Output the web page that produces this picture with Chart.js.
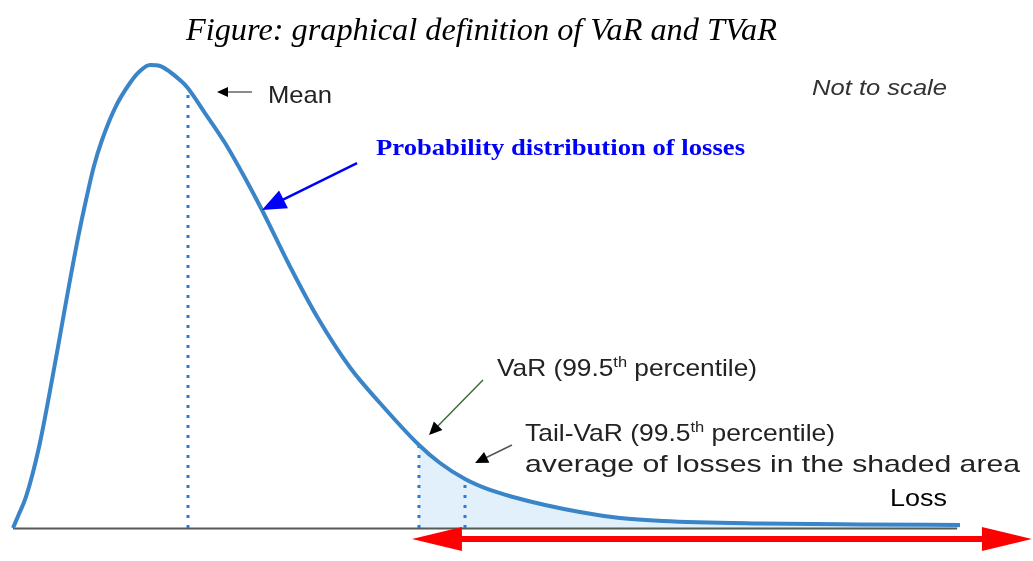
<!DOCTYPE html>
<html><head><meta charset="utf-8">
<script src="https://cdn.jsdelivr.net/npm/chart.js@4.4.1/dist/chart.umd.min.js"></script>
<style>html,body{margin:0;padding:0;background:#fff;overflow:hidden}#wrap{width:1033px;height:561px;position:relative}</style>
</head><body><div id="wrap"><canvas id="c" width="1033" height="561"></canvas></div>
<script>
// ---- data (loss on x, density on y; "not to scale") ----
const lossValues    = [0, 0.63, 1.37, 2.75, 4.12, 5.07, 6.02, 6.86, 7.71, 8.55, 9.40, 10.77, 12.35, 13.41, 14.47, 15.52, 16.58, 17.63, 18.37, 20.27, 22.39, 24.50, 26.29, 29.25, 32.10, 35.59, 38.75, 42.87, 45.09, 47.73, 50.37, 52.80, 56.18, 59.87, 64.10, 68.64, 78.88, 89.44, 100];
const densityValues = [0, 3.02, 6.70, 17.49, 31.97, 42.76, 53.56, 62.63, 70.84, 78.19, 83.80, 90.71, 96.11, 98.70, 100, 99.78, 98.49, 96.76, 95.25, 89.63, 83.15, 75.59, 68.68, 56.48, 45.68, 34.67, 27.00, 17.93, 14.04, 10.58, 8.21, 6.70, 4.97, 3.46, 2.16, 1.51, 0.97, 0.76, 0.65];
const markerNames   = ['Mean', 'VaR', 'TVaR'];
const markerLoss    = [18.48, 42.87, 47.73];
const markerDensity = [93.9, 17.93, 10.58];
const axisEndLoss   = 99.7;

const curve = lossValues.map((x, i) => ({x, y: densityValues[i]}));
const tail = curve.filter(p => p.x >= markerLoss[1]);
const markerSets = markerNames.map((n, i) => ({
  label: n, data: [{x: markerLoss[i], y: 0}, {x: markerLoss[i], y: markerDensity[i]}],
  borderColor: '#2a7bd6', borderWidth: 3, borderDash: [3, 7], borderCapStyle: 'butt',
  pointRadius: 0, fill: false, order: 1, clip: false
}));

// ---- annotations (positions in data units) ----
const arrows = [
  {from: [25.24, 94.17], to: [21.54, 94.17], color: '#666', head: '#000', w: 1.5, hl: 11, hw: 5},
  {from: [36.33, 78.83], to: [26.29, 68.68], color: '#0000ff', head: '#0000ff', w: 2.5, hl: 24, hw: 10},
  {from: [49.63, 31.97], to: [43.93, 20.09], color: '#3d6b3d', head: '#000', w: 1.5, hl: 13, hw: 6},
  {from: [52.69, 17.93], to: [48.79, 14.04], color: '#555', head: '#000', w: 1.5, hl: 13, hw: 6}
];
const redArrow = {from: 42.13, to: 107.6, y: -2.38};

const texts = [
  {parts: [{t: 'Figure: graphical definition of VaR and TVaR'}], x: 186, y: 40, w: 591, font: 'italic 31px "Liberation Serif"', color: '#000'},
  {parts: [{t: 'Mean'}], x: 268, y: 103, w: 64, font: '24px "Liberation Sans"', color: '#222'},
  {parts: [{t: 'Not to scale'}], x: 812, y: 95, w: 135, font: 'italic 22px "Liberation Sans"', color: '#333'},
  {parts: [{t: 'Probability distribution of losses'}], x: 376, y: 155, w: 369, font: 'bold 23px "Liberation Serif"', color: '#0000ff'},
  {parts: [{t: 'VaR (99.5'}, {t: 'th', sup: true}, {t: ' percentile)'}], x: 497, y: 376, w: 260, font: '24px "Liberation Sans"', color: '#222'},
  {parts: [{t: 'Tail-VaR (99.5'}, {t: 'th', sup: true}, {t: ' percentile)'}], x: 525, y: 441, w: 310, font: '24px "Liberation Sans"', color: '#222'},
  {parts: [{t: 'average of losses in the shaded area'}], x: 525, y: 472, w: 495, font: '24px "Liberation Sans"', color: '#222'},
  {parts: [{t: 'Loss'}], x: 890, y: 506, w: 57, font: '24px "Liberation Sans"', color: '#000'}
];

function supFont(f) { return f.replace(/(\d+)px/, (m, n) => Math.round(n * 0.62) + 'px'); }

function drawArrow(ctx, x1, y1, x2, y2, a) {
  const ang = Math.atan2(y2 - y1, x2 - x1);
  const bx = x2 - Math.cos(ang) * a.hl, by = y2 - Math.sin(ang) * a.hl;
  ctx.strokeStyle = a.color; ctx.lineWidth = a.w; ctx.lineCap = 'butt';
  ctx.beginPath(); ctx.moveTo(x1, y1); ctx.lineTo(bx + Math.cos(ang), by + Math.sin(ang)); ctx.stroke();
  ctx.fillStyle = a.head;
  ctx.beginPath();
  ctx.moveTo(x2, y2);
  ctx.lineTo(bx + Math.sin(ang) * a.hw, by - Math.cos(ang) * a.hw);
  ctx.lineTo(bx - Math.sin(ang) * a.hw, by + Math.cos(ang) * a.hw);
  ctx.closePath(); ctx.fill();
}

const annot = {
  id: 'annot',
  afterDatasetsDraw(chart) {
    const ctx = chart.ctx, xs = chart.scales.x, ys = chart.scales.y;
    const P = (p) => [xs.getPixelForValue(p[0]), ys.getPixelForValue(p[1])];
    ctx.save();
    arrows.forEach(a => { const f = P(a.from), t = P(a.to); drawArrow(ctx, f[0], f[1], t[0], t[1], a); });
    // red double-headed arrow
    const L = xs.getPixelForValue(redArrow.from), R = xs.getPixelForValue(redArrow.to), Y = ys.getPixelForValue(redArrow.y);
    const hl = 50, hw = 12;
    ctx.strokeStyle = '#ff0000'; ctx.lineWidth = 6;
    ctx.beginPath(); ctx.moveTo(L + hl - 2, Y); ctx.lineTo(R - hl + 2, Y); ctx.stroke();
    ctx.fillStyle = '#ff0000';
    ctx.beginPath(); ctx.moveTo(L, Y); ctx.lineTo(L + hl, Y - hw); ctx.lineTo(L + hl, Y + hw); ctx.closePath(); ctx.fill();
    ctx.beginPath(); ctx.moveTo(R, Y); ctx.lineTo(R - hl, Y - hw); ctx.lineTo(R - hl, Y + hw); ctx.closePath(); ctx.fill();
    // texts
    ctx.textBaseline = 'alphabetic'; ctx.textAlign = 'left';
    texts.forEach(tx => {
      let total = 0;
      const widths = tx.parts.map(p => { ctx.font = p.sup ? supFont(tx.font) : tx.font; const w = ctx.measureText(p.t).width; total += w; return w; });
      const s = tx.w / total;
      ctx.save(); ctx.translate(tx.x, tx.y); ctx.scale(s, 1);
      ctx.fillStyle = tx.color;
      let cx = 0;
      tx.parts.forEach((p, i) => {
        ctx.font = p.sup ? supFont(tx.font) : tx.font;
        ctx.fillText(p.t, cx, p.sup ? -9 : 0);
        cx += widths[i];
      });
      ctx.restore();
    });
    ctx.restore();
  }
};

new Chart(document.getElementById('c'), {
  type: 'line',
  data: {
    datasets: [
      {label: 'Probability distribution of losses', data: curve, borderColor: '#3a84c8', borderWidth: 4,
       cubicInterpolationMode: 'monotone', pointRadius: 0, fill: false, order: 0, clip: false},
      ...markerSets,
      {label: 'Tail', data: tail, borderWidth: 0, borderColor: 'rgba(0,0,0,0)', backgroundColor: '#e2f0fb',
       cubicInterpolationMode: 'monotone', pointRadius: 0, fill: 'origin', order: 3, clip: false},
      {label: 'Axis', data: [{x: 0, y: -0.1}, {x: axisEndLoss, y: -0.1}], borderColor: '#555a55', borderWidth: 2,
       pointRadius: 0, fill: false, order: 2, clip: false}
    ]
  },
  options: {
    responsive: false, animation: false, devicePixelRatio: 1,
    layout: {padding: 0},
    scales: {
      x: {type: 'linear', min: -1.373, max: 107.71, display: false},
      y: {type: 'linear', min: -7.13, max: 114.04, display: false}
    },
    plugins: {legend: {display: false}, tooltip: {enabled: false}, title: {display: false}}
  },
  plugins: [annot]
});
</script>
</body></html>
